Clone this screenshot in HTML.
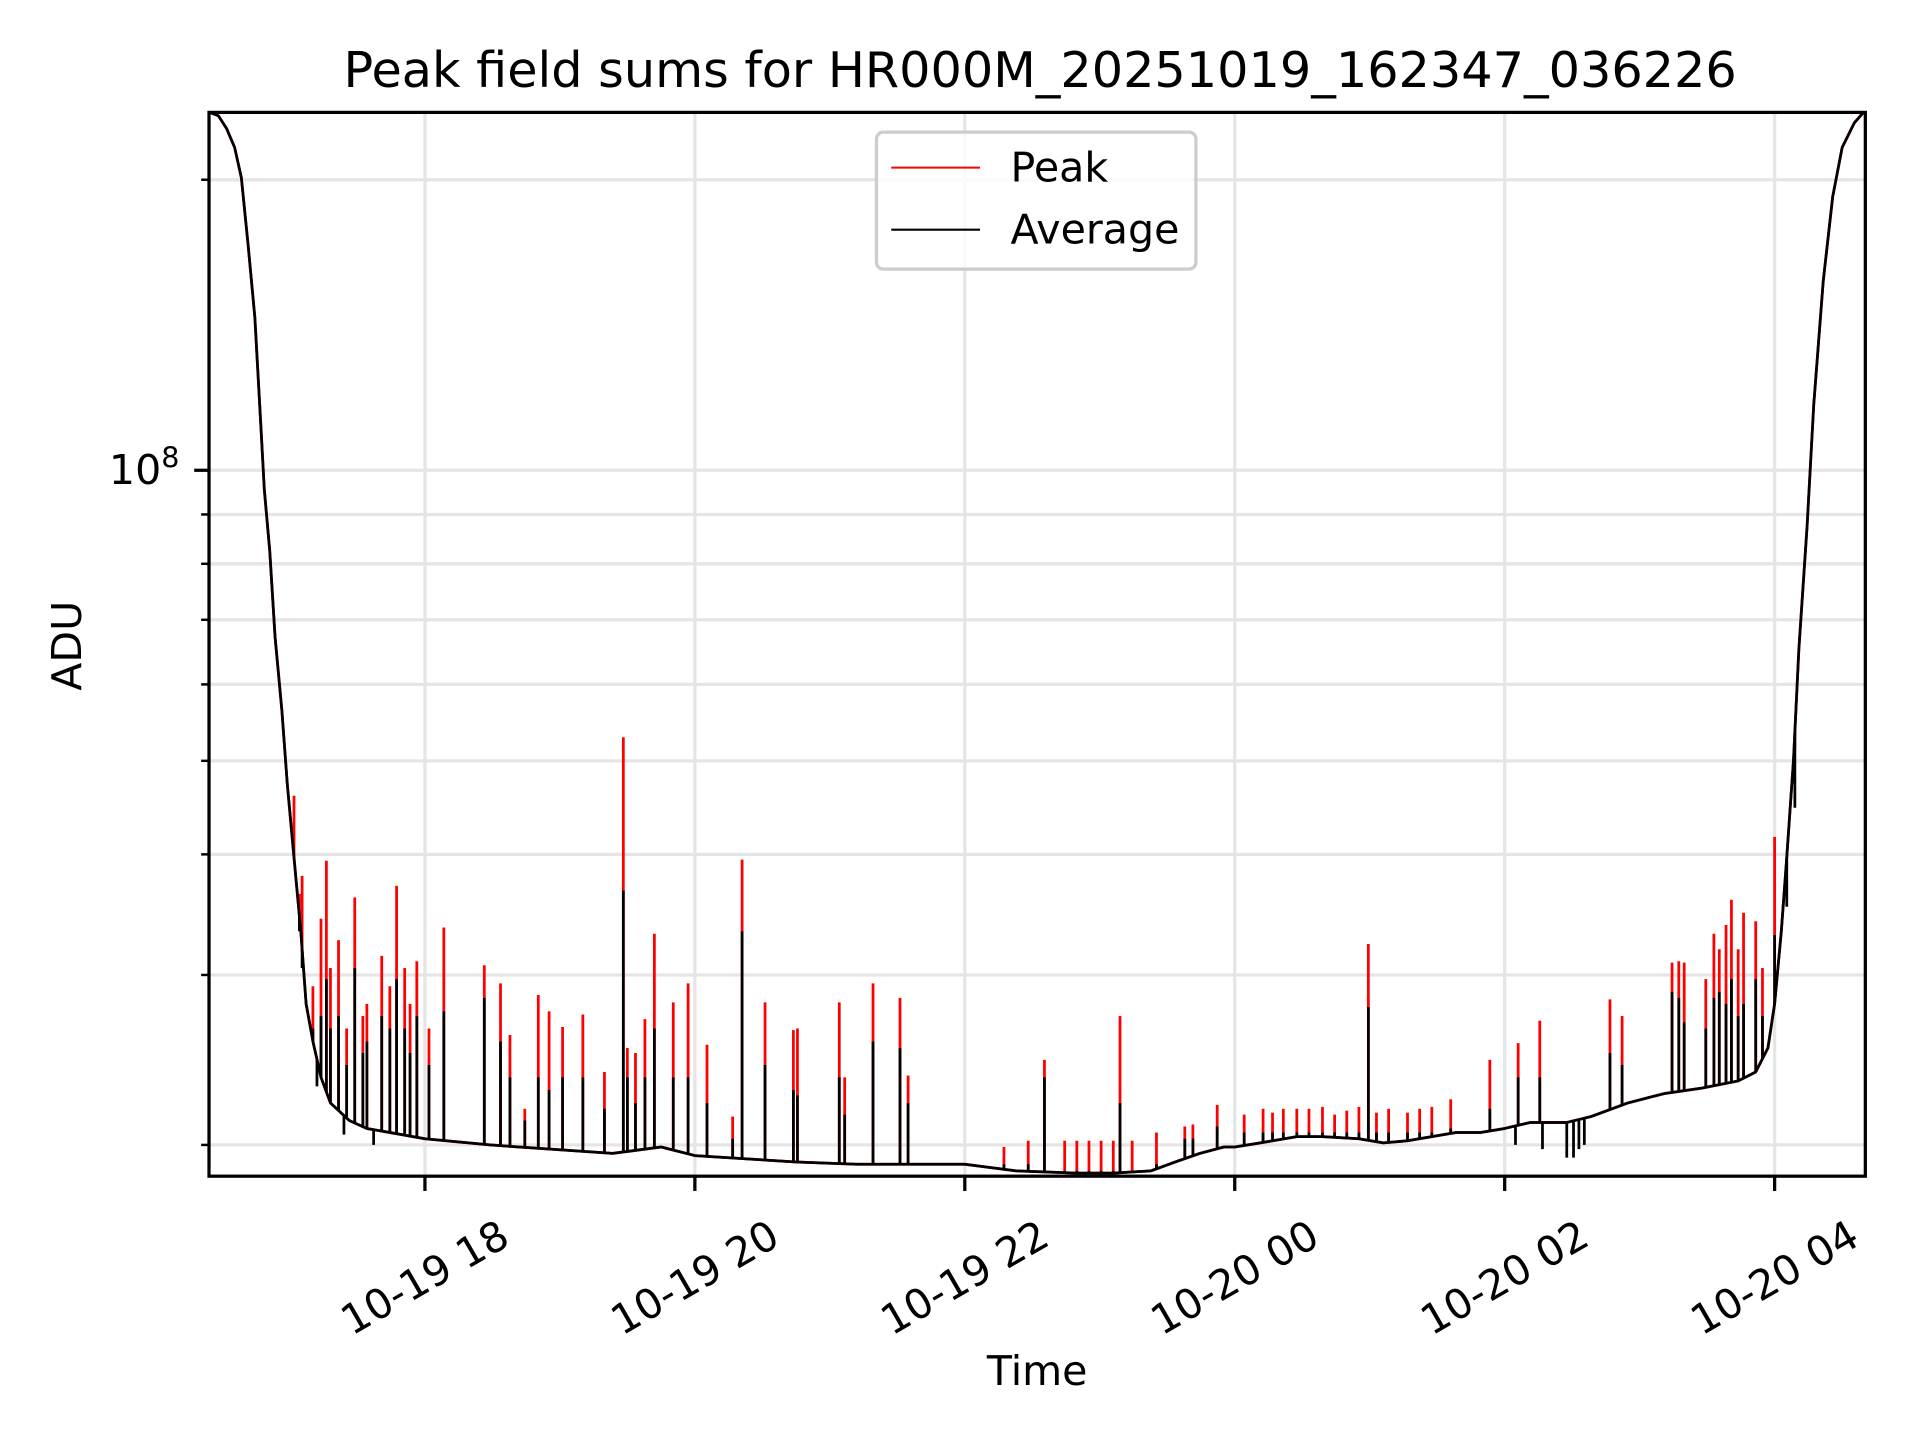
<!DOCTYPE html>
<html><head><meta charset="utf-8"><title>Peak field sums</title>
<style>html,body{margin:0;padding:0;background:#fff}svg{display:block}text{font-family:"DejaVu Sans","Liberation Sans",sans-serif;fill:#000}</style>
</head><body>
<svg id="chart" xmlns="http://www.w3.org/2000/svg" width="1920" height="1440" viewBox="0 0 1920 1440">
<rect width="1920" height="1440" fill="#fff"/>
<defs><clipPath id="clip"><rect x="212" y="114" width="1680" height="1079"/></clipPath></defs>
<g transform="scale(0.9859)">
<g id="grid"></g>
<g id="series" clip-path="url(#clip)"></g>
<rect x="212" y="114" width="1680" height="1079" fill="none" stroke="#000" stroke-width="3.3"/>
<g id="ticks"></g>
<text x="1055" y="88" font-size="50" text-anchor="middle">Peak field sums for HR000M_20251019_162347_036226</text>
<text x="1052" y="1405" font-size="41.7" text-anchor="middle">Time</text>
<text transform="translate(82,655) rotate(-90)" font-size="41.7" text-anchor="middle">ADU</text>
<g>
<rect x="889" y="134" width="324" height="139" rx="7" fill="#fff" fill-opacity="0.8" stroke="#ccc" stroke-width="3.3"/>
<line x1="904" y1="170" x2="994" y2="170" stroke="#f00" stroke-width="2.1"/>
<text x="1025" y="184" font-size="41.7">Peak</text>
<line x1="904" y1="233" x2="994" y2="233" stroke="#000" stroke-width="2.1"/>
<text x="1025" y="247" font-size="41.7">Average</text>
</g>
</g>
</svg>
<script>
// hours since 2025-10-19 00:00 ; values in units of 1e7 ADU
const baseTimes = [16.40,16.47,16.53,16.59,16.64,16.69,16.74,16.78,16.81,16.85,16.89,16.94,16.98,17.03,17.08,17.12,17.17,17.23,17.30,17.44,17.57,18.0,18.48,18.93,19.39,19.75,20.0,20.75,21.20,22.0,22.38,22.83,23.10,23.38,23.56,23.74,23.92,24.0,24.19,24.46,24.65,24.92,25.10,25.28,25.46,25.64,25.82,26.0,26.19,26.46,26.64,26.91,27.18,27.46,27.73,27.86,27.95,28.0,28.05,28.09,28.14,28.18,28.24,28.29,28.36,28.43,28.50,28.59,28.66];
const baseValues = [23.5,23.3,22.6,21.6,20.1,17.1,14.4,11.4,9.55,8.25,6.72,5.64,4.73,3.97,3.33,2.80,2.56,2.35,2.21,2.12,2.08,2.03,2.00,1.98,1.96,1.99,1.95,1.92,1.91,1.91,1.88,1.87,1.87,1.88,1.92,1.96,1.99,1.99,2.01,2.04,2.04,2.03,2.01,2.02,2.04,2.06,2.06,2.08,2.11,2.11,2.14,2.21,2.26,2.29,2.33,2.38,2.52,2.80,3.33,3.97,5.02,6.53,8.74,11.7,15.7,19.2,21.6,22.9,23.5];
const spikeTimes = [17.03,17.07,17.09,17.17,17.23,17.27,17.30,17.36,17.42,17.48,17.54,17.57,17.68,17.74,17.79,17.85,17.89,17.94,18.03,18.14,18.44,18.56,18.63,18.74,18.84,18.92,19.02,19.17,19.33,19.47,19.50,19.56,19.63,19.70,19.84,19.95,20.09,20.28,20.35,20.52,20.73,20.76,21.07,21.11,21.32,21.52,21.58,22.29,22.47,22.59,22.74,22.83,22.92,23.01,23.10,23.15,23.24,23.42,23.63,23.69,23.87,24.07,24.21,24.28,24.36,24.46,24.55,24.65,24.74,24.83,24.92,24.99,25.05,25.14,25.28,25.37,25.46,25.60,25.89,26.10,26.26,26.78,26.87,27.24,27.29,27.33,27.49,27.55,27.59,27.64,27.68,27.73,27.77,27.86,27.91,28.00,28.09,28.15];
const spikePeak = [4.60,3.64,3.80,2.92,3.43,3.94,3.05,3.26,2.64,3.61,2.72,2.80,3.14,2.92,3.71,3.05,2.80,3.10,2.64,3.36,3.07,2.94,2.60,2.18,2.86,2.75,2.65,2.73,2.38,5.29,2.52,2.49,2.70,3.31,2.81,2.94,2.54,2.14,3.95,2.81,2.63,2.64,2.81,2.35,2.94,2.84,2.36,1.99,2.02,2.45,2.02,2.02,2.02,2.02,2.02,2.72,2.02,2.06,2.09,2.10,2.20,2.15,2.18,2.16,2.18,2.18,2.18,2.19,2.15,2.17,2.19,3.23,2.16,2.18,2.16,2.18,2.19,2.23,2.45,2.55,2.69,2.83,2.72,3.09,3.10,3.09,2.97,3.31,3.19,3.38,3.59,3.19,3.48,3.41,3.05,4.17,3.97,5.14];
const spikeAvg = [3.97,3.33,3.05,2.64,2.72,2.97,2.64,2.72,2.42,3.05,2.49,2.56,2.72,2.64,2.97,2.64,2.49,2.72,2.42,2.75,2.84,2.56,2.35,2.12,2.35,2.28,2.35,2.35,2.18,3.67,2.35,2.21,2.35,2.64,2.35,2.35,2.21,2.03,3.33,2.42,2.28,2.25,2.35,2.15,2.56,2.52,2.21,1.91,1.91,2.35,1.88,1.88,1.88,1.88,1.88,2.21,1.88,1.91,2.03,2.03,2.09,2.06,2.06,2.06,2.06,2.06,2.06,2.06,2.06,2.06,2.06,2.78,2.06,2.06,2.06,2.06,2.06,2.08,2.18,2.35,2.35,2.49,2.42,2.88,2.84,2.68,2.64,2.84,2.88,2.80,2.97,2.72,2.80,2.97,2.72,3.30,3.53,4.47];
const dipTimes = [17.20,17.40,17.62,26.08,26.28,26.46,26.51,26.55,26.59];
const dipValues = [2.30,2.05,2.00,2.00,1.98,1.94,1.94,1.98,2.00];
const xTickHours = [18,20,22,24,26,28];
const xTickLabels = ["10-19 18","10-19 20","10-19 22","10-20 00","10-20 02","10-20 04"];
const yMinorValues = [2,3,4,5,6,7,8,9,20];

const NS = "http://www.w3.org/2000/svg";
const LW = 2.8;
function xS(t){ return 431 + (t-18)*136.9; }
function yS(v){ return 477 - 979*Math.log10(v/10); }
function mk(tag, attrs, parent){ const e=document.createElementNS(NS,tag); for(const k in attrs) e.setAttribute(k,attrs[k]); parent.appendChild(e); return e; }
function baseAt(t){
  for(let i=0;i<baseTimes.length-1;i++){
    if(t>=baseTimes[i] && t<=baseTimes[i+1]){
      const f=(t-baseTimes[i])/(baseTimes[i+1]-baseTimes[i]);
      return Math.exp(Math.log(baseValues[i])*(1-f)+Math.log(baseValues[i+1])*f);
    }
  }
  return baseValues[baseValues.length-1];
}
const grid=document.getElementById('grid'), series=document.getElementById('series'), ticks=document.getElementById('ticks');

xTickHours.forEach((h)=>{
  const l=mk('line',{x1:xS(h),x2:xS(h),y1:114,y2:1193,stroke:'#e5e5e5','stroke-width':3.3},grid);
  
  
});
const yGridVals=[10].concat(yMinorValues);
yGridVals.forEach((v)=>{
  const l=mk('line',{x1:212,x2:1892,y1:yS(v),y2:yS(v),stroke:'#e5e5e5','stroke-width':3.3},grid);
  
  
});

function polyline(color,name){
  const pts=baseTimes.map((t,i)=>xS(t).toFixed(1)+','+yS(baseValues[i]).toFixed(1)).join(' ');
  const p=mk('polyline',{points:pts,fill:'none',stroke:color,'stroke-width':LW,'stroke-linejoin':'round'},series);
  
  
}
polyline('#f00','peak-line');
spikeTimes.forEach((t,i)=>{
  const b=baseAt(t);
  const l=mk('line',{x1:xS(t),x2:xS(t),y1:yS(b),y2:yS(spikePeak[i]),stroke:'#f00','stroke-width':LW},series);
  
  
});
polyline('#000','average-line');
spikeTimes.forEach((t,i)=>{
  const b=baseAt(t);
  const l=mk('line',{x1:xS(t),x2:xS(t),y1:yS(b),y2:yS(spikeAvg[i]),stroke:'#000','stroke-width':LW},series);
  
  
});
dipTimes.forEach((t,i)=>{
  const b=baseAt(t);
  const l=mk('line',{x1:xS(t),x2:xS(t),y1:yS(b),y2:yS(dipValues[i]),stroke:'#000','stroke-width':LW},series);
  
  
});

xTickHours.forEach((h,i)=>{
  const x=xS(h);
  const l=mk('line',{x1:x,x2:x,y1:1193,y2:1208,stroke:'#000','stroke-width':3.3},ticks);
  
  
  const t=mk('text',{transform:`translate(${x},1296) rotate(-30)`,'font-size':41.7,'text-anchor':'middle','dominant-baseline':'central'},ticks);
  t.textContent=xTickLabels[i];
  
  
});
const maj=mk('line',{x1:197,x2:212,y1:yS(10),y2:yS(10),stroke:'#000','stroke-width':3.3},ticks);


const yl=mk('text',{x:182,y:yS(10)+14,'font-size':41.7,'text-anchor':'end'},ticks);


yl.innerHTML='10<tspan font-size="29" dy="-17">8</tspan>';
yMinorValues.forEach((v)=>{
  const l=mk('line',{x1:204,x2:212,y1:yS(v),y2:yS(v),stroke:'#000','stroke-width':2.5},ticks);
  
  
});
</script>
</body></html>
